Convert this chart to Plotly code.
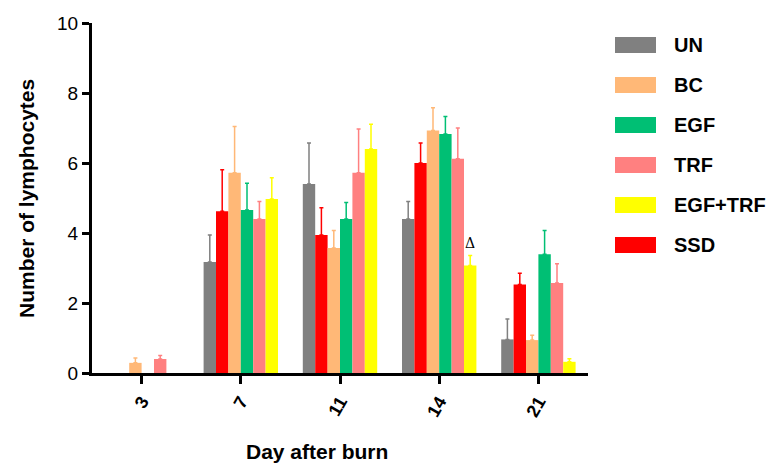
import plotly.graph_objects as go

days = ["3", "7", "11", "14", "21"]
# bar order inside each group (as drawn)
bar_order = ["UN", "SSD", "BC", "EGF", "TRF", "EGF+TRF"]
# legend order
legend_order = ["UN", "BC", "EGF", "TRF", "EGF+TRF", "SSD"]

colors = {
    "UN": "#808080",
    "BC": "#FFB877",
    "EGF": "#00BF74",
    "TRF": "#FF8080",
    "EGF+TRF": "#FFFF00",
    "SSD": "#FF0000",
}

# None = no bar shown at that day
means = {
    "UN":      [None, 3.17, 5.40, 4.40, 0.96],
    "SSD":     [None, 4.62, 3.94, 6.00, 2.53],
    "BC":      [0.29, 5.72, 3.57, 6.93, 0.94],
    "EGF":     [None, 4.66, 4.40, 6.83, 3.39],
    "TRF":     [0.40, 4.40, 5.72, 6.12, 2.57],
    "EGF+TRF": [None, 4.97, 6.40, 3.07, 0.32],
}
errors = {
    "UN":      [None, 0.77, 1.17, 0.50, 0.58],
    "SSD":     [None, 1.19, 0.78, 0.57, 0.32],
    "BC":      [0.14, 1.32, 0.50, 0.65, 0.14],
    "EGF":     [None, 0.76, 0.47, 0.50, 0.68],
    "TRF":     [0.10, 0.50, 1.25, 0.88, 0.55],
    "EGF+TRF": [None, 0.61, 0.71, 0.29, 0.09],
}

FONT = "Liberation Sans, Arial, sans-serif"

fig = go.Figure()
for name in bar_order:
    fig.add_trace(go.Bar(
        x=days, y=means[name], name=name,
        marker=dict(color=colors[name], line=dict(width=0)),
        error_y=dict(type="data", array=errors[name], arrayminus=[0] * len(days),
                     symmetric=False, color=colors[name], thickness=1.5, width=2),
        showlegend=False,
    ))

# significance marker above EGF+TRF at day 14
n = len(bar_order)
idx = bar_order.index("EGF+TRF")
group_w = 0.75
offset = (idx + 0.5) * group_w / n - group_w / 2
d = days.index("14")
fig.add_annotation(x=d + offset, y=means["EGF+TRF"][d] + errors["EGF+TRF"][d] + 0.35,
                   xref="x", yref="y", text="Δ", showarrow=False,
                   font=dict(family="DejaVu Serif, serif", size=14, color="black"))

# custom legend with wide swatches
L, R, T, B = 92, 183, 23, 90
W, H = 771 - L - R, 463 - T - B
for i, name in enumerate(legend_order):
    cy = 45 + 40 * i
    fig.add_shape(type="rect", xref="paper", yref="paper",
                  x0=(615 - L) / W, x1=(656 - L) / W,
                  y0=(H + T - (cy - 8)) / H, y1=(H + T - (cy + 8)) / H,
                  fillcolor=colors[name], line=dict(width=0))
    fig.add_annotation(xref="paper", yref="paper", x=(672 - L) / W,
                       y=(H + T - cy) / H, text="<b>%s</b>" % name,
                       xanchor="left", yanchor="middle", showarrow=False,
                       font=dict(family=FONT, size=20, color="black"))

# x title
fig.add_annotation(xref="paper", yref="paper", x=(317 - L) / W, y=(H + T - 451) / H,
                   text="<b>Day after burn</b>", showarrow=False,
                   xanchor="center", yanchor="middle",
                   font=dict(family=FONT, size=21, color="black"))
# y title
fig.add_annotation(xref="paper", yref="paper", x=(26 - L) / W, y=(H + T - 199) / H,
                   text="<b>Number of lymphocytes</b>", showarrow=False, textangle=-90,
                   xanchor="center", yanchor="middle",
                   font=dict(family=FONT, size=21, color="black"))

fig.update_layout(
    width=771, height=463,
    margin=dict(l=L, r=R, t=T, b=B),
    paper_bgcolor="white", plot_bgcolor="white",
    barmode="group", bargap=0.25, bargroupgap=0,
    font=dict(family=FONT, color="black"),
    showlegend=False,
)
fig.update_xaxes(
    type="category", range=[-0.5, 4.5],
    showline=True, linecolor="black", linewidth=3,
    ticks="outside", ticklen=8, tickwidth=3, tickcolor="black",
    tickangle=-60, tickfont=dict(family=FONT, size=18),
    showgrid=False, zeroline=False,
    tickprefix="<b>", ticksuffix="</b>",
)
fig.update_yaxes(
    range=[0, 10], tickvals=[0, 2, 4, 6, 8, 10],
    showline=True, linecolor="black", linewidth=3,
    ticks="outside", ticklen=7, tickwidth=3, tickcolor="black",
    tickfont=dict(family=FONT, size=19),
    tickprefix="<b>", ticksuffix="</b>",
    showgrid=False, zeroline=False,
)

fig.write_html("out.html")
